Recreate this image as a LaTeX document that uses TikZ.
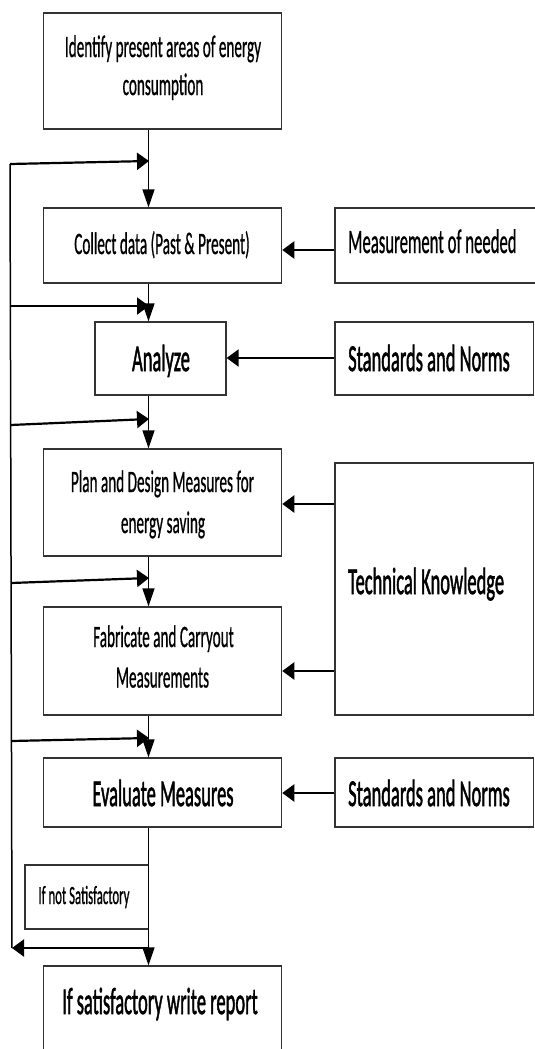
\documentclass[tikz,border=0pt]{standalone}
\usepackage{fontspec}
\setmainfont{Carlito}
\newfontfamily\normfont{Carlito}[FakeBold=1.0]
\newfontfamily\bigfont{Carlito}[FakeBold=2]
\usetikzlibrary{arrows.meta}
\newcommand{\vst}[1]{\scalebox{1}[2.05]{#1}}
\newcommand{\fsN}{\normfont\fontsize{15.2pt}{18pt}\selectfont}
\newcommand{\fsM}{\normfont\fontsize{16.7pt}{20pt}\selectfont}
\newcommand{\fsL}{\bigfont\fontsize{18.5pt}{22pt}\selectfont}
\newcommand{\fsS}{\normfont\fontsize{12.8pt}{15pt}\selectfont}
\begin{document}
\begin{tikzpicture}[x=1pt,y=-1pt,
  box/.style={draw=black!80, line width=1.3pt, rectangle, inner sep=0pt},
  lbl/.style={anchor=base, inner sep=0pt, text=black},
  lbll/.style={anchor=base west, inner sep=0pt, text=black},
  vline/.style={line width=1.5pt, draw=black},
  hline/.style={line width=2.2pt, draw=black},
  varr/.style={vline, -{Triangle[length=18pt,width=12pt]}},
  harr/.style={hline, -{Triangle[length=12pt,width=17pt]}},
]
\path[use as bounding box, fill=white] (0,0) rectangle (535,1049);
\clip (0,0) rectangle (535,1049);

% main column boxes
\node[box, minimum width=237.9pt, minimum height=116pt] (ident) at (162.65,71) {};
\node[box, minimum width=237.9pt, minimum height=75pt] (collect) at (162.65,245.5) {};
\node[box, minimum width=131pt, minimum height=73pt] (analyze) at (160.5,358.5) {};
\node[box, minimum width=237.9pt, minimum height=107pt] (plan) at (162.65,502.5) {};
\node[box, minimum width=237.9pt, minimum height=108pt] (fab) at (162.65,661) {};
\node[box, minimum width=237.9pt, minimum height=69pt] (eval) at (162.65,792.5) {};
\node[box, minimum width=237.9pt, minimum height=114pt] (report) at (162.65,1023) {};
\node[box, minimum width=123.5pt, minimum height=64pt] (ifnot) at (86.75,897) {};

% right column boxes
\node[box, minimum width=210pt, minimum height=75pt] (meas) at (440,245.5) {};
\node[box, minimum width=198.5pt, minimum height=73pt] (std1) at (434.25,358.5) {};
\node[box, minimum width=198.5pt, minimum height=252pt] (tk) at (434.25,589) {};
\node[box, minimum width=198.5pt, minimum height=69pt] (std2) at (434.25,792.5) {};

% texts
\node[lbl] (tident1) at (163,57) {\vst{\fsN Identify present areas of energy}};
\node[lbl] (tident2) at (163,95) {\vst{\fsN consumption}};
\node[lbl] (tcollect) at (162,254) {\vst{\fsN Collect data (Past \& Present)}};
\node[lbl] (tanalyze) at (161,371) {\vst{\fsL Analyze}};
\node[lbl] (tplan1) at (162.5,492) {\vst{\fsN Plan and Design Measures for}};
\node[lbl] (tplan2) at (163,533) {\vst{\fsN energy saving}};
\node[lbl] (tfab1) at (163.5,647) {\vst{\fsN Fabricate and Carryout}};
\node[lbl] (tfab2) at (162.5,687.5) {\vst{\fsN Measurements}};
\node[lbl] (teval) at (163,806) {\vst{\fsL Evaluate Measures}};
\node[lbl] (tifnot) at (84,904) {\vst{\fsS If not Satisfactory}};
\node[lbl] (treport) at (160,1014) {\vst{\fsL If satisfactory write report}};
\node[lbll] (tmeas) at (348,253) {\vst{\fsM Measurement of needed}};
\node[lbll] (tstd1) at (348,371) {\vst{\fsL Standards and Norms}};
\node[lbll] (ttk) at (348,594) {\vst{\fsL Technical Knowledge}};
\node[lbll] (tstd2) at (348,806) {\vst{\fsL Standards and Norms}};

% helper coordinates
\coordinate (cx) at (148.5,0);
\coordinate (ym) at (0,250);
\coordinate (ys1) at (0,358);
\coordinate (yt1) at (0,504);
\coordinate (yt2) at (0,671);
\coordinate (ys2) at (0,793);

% vertical flow
\draw[varr] (ident.south -| cx) -- (collect.north -| cx);
\draw[varr] (collect.south -| cx) -- (analyze.north -| cx);
\draw[varr] (analyze.south -| cx) -- (plan.north -| cx);
\draw[varr] (plan.south -| cx) -- (fab.north -| cx);
\draw[varr] (fab.south -| cx) -- (eval.north -| cx);
\draw[varr] (eval.south -| cx) -- (report.north -| cx);

% inputs from the right
\draw[harr] (meas.west |- ym) -- (collect.east |- ym);
\draw[harr] (std1.west |- ys1) -- (analyze.east |- ys1);
\draw[harr] (tk.west |- yt1) -- (plan.east |- yt1);
\draw[harr] (tk.west |- yt2) -- (fab.east |- yt2);
\draw[harr] (std2.west |- ys2) -- (eval.east |- ys2);

% feedback loop
\coordinate (ltop) at (10,164);
\coordinate (lbot) at (12,948);
\coordinate (ret) at (148.5,948);
\coordinate (fl2) at (10.4,306);
\coordinate (fr2) at (149,306);
\coordinate (fl3) at (10.7,425);
\coordinate (fr3) at (149,419);
\coordinate (fl4) at (11.1,583);
\coordinate (fr4) at (149,578);
\coordinate (fl5) at (11.5,741);
\coordinate (fr5) at (149,738);
\coordinate (fr1) at (149,161);

\draw[vline] (ltop) -- (lbot);
\draw[harr] (ret) -- (lbot);
\draw[harr] (ltop) -- (fr1);
\draw[harr] (fl2) -- (fr2);
\draw[harr] (fl3) -- (fr3);
\draw[harr] (fl4) -- (fr4);
\draw[harr] (fl5) -- (fr5);
\end{tikzpicture}
\end{document}
